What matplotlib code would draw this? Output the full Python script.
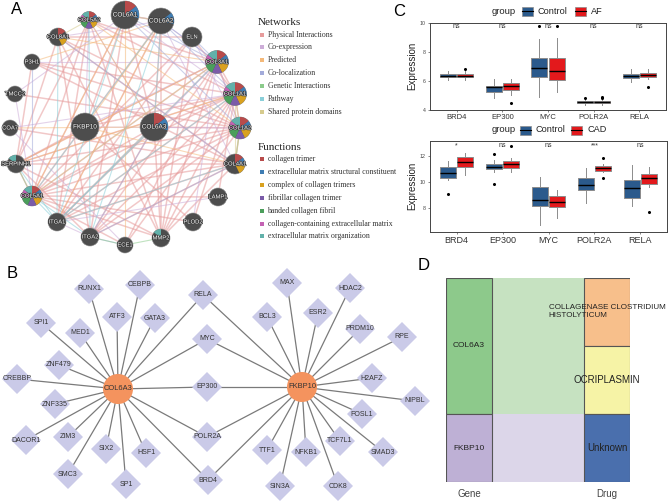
import matplotlib
matplotlib.use("Agg")
import matplotlib.pyplot as plt
import matplotlib.patheffects as pe
from matplotlib.patches import Circle, Wedge, Polygon, Rectangle

plt.rcParams["font.family"] = ["Liberation Sans", "DejaVu Sans"]
SERIF = ["Liberation Serif", "DejaVu Serif"]

# ---------------- data: panel A (GeneMANIA network) ----------------
a_nodes = ["COL6A1", "COL6A2", "ELN", "COL3A1", "COL1A1", "COL1A2", "COL4A1",
           "LAMP1", "PLOD2", "MMP2", "ECE1", "ITGA2", "ITGA1", "COL5A1",
           "SERPINH1", "COA7", "TMCC2", "P3H1", "COL8A1", "COL5A2",
           "FKBP10", "COL6A3"]
a_size = [14, 13, 10, 11.5, 11.5, 11, 10, 9, 9, 9, 8, 9, 9, 10,
          9, 8, 8, 8, 9, 8.5, 14, 14]
# function index per node (0 collagen trimer ... 6 ECM organization)
a_funcs = {"COL6A1": [0, 1], "COL6A2": [1], "COL6A3": [0, 1],
           "COL5A2": [0, 1, 2, 3, 4, 5, 6], "COL8A1": [0, 2],
           "COL3A1": [0, 1, 2, 3, 4, 5, 6], "COL1A1": [0, 1, 2, 3, 4, 5, 6],
           "COL1A2": [0, 1, 2, 3, 4, 5, 6], "COL4A1": [0, 1, 2],
           "COL5A1": [0, 1, 2, 3, 4, 5, 6], "MMP2": [6], "SERPINH1": [6]}

net_types = ["Physical Interactions", "Co-expression", "Predicted",
             "Co-localization", "Genetic Interactions", "Pathway",
             "Shared protein domains"]
net_colors = ["#E79C9C", "#CDADD8", "#F4B97A", "#A3ABDA", "#8CCB8C",
              "#8ACFD9", "#D6CB8E"]
func_names = ["collagen trimer", "extracellular matrix structural constituent",
              "complex of collagen trimers", "fibrillar collagen trimer",
              "banded collagen fibril", "collagen-containing extracellular matrix",
              "extracellular matrix organization"]
func_colors = ["#B84B4B", "#3F7DB3", "#D9A11F", "#7A5BA8", "#4B9E5B",
               "#C462B3", "#62B1AA"]

a_edges = {
    "Physical Interactions": """COL6A1-COL6A2 COL6A1-COL6A3 COL6A2-COL6A3 COL6A1-FKBP10
        COL1A1-COL1A2 COL1A1-COL3A1 COL1A2-COL3A1 COL1A1-COL5A1 COL1A2-COL5A1
        COL3A1-COL5A1 COL5A1-COL5A2 COL1A1-COL5A2 COL5A2-COL3A1 COL4A1-ITGA1
        COL4A1-ITGA2 COL1A1-ITGA2 COL1A1-ITGA1 COL1A2-ITGA2 COL3A1-ITGA2
        COL1A1-MMP2 COL1A2-MMP2 COL3A1-MMP2 COL4A1-MMP2 COL5A1-MMP2 COL6A3-MMP2
        COL1A1-SERPINH1 COL1A2-SERPINH1 COL3A1-SERPINH1 COL4A1-SERPINH1
        COL5A1-SERPINH1 COL5A2-SERPINH1 COL8A1-SERPINH1 P3H1-COL1A1 P3H1-COL1A2
        P3H1-SERPINH1 FKBP10-COL1A1 FKBP10-SERPINH1 FKBP10-PLOD2 PLOD2-COL1A1
        PLOD2-COL5A1 COL6A3-COL1A1 COL6A3-COL1A2 COL6A3-COL5A1 COL6A3-ITGA1
        COL6A3-ITGA2 COL6A1-ITGA2 COL6A2-ITGA1 COL6A1-COL5A1 COL6A2-COL5A1
        COL8A1-COL1A2 COL8A1-ITGA2 ELN-COL1A1 ELN-MMP2 ELN-COL5A1 ELN-COL8A1
        LAMP1-COL5A1 LAMP1-COL1A1 ECE1-COL1A1 ECE1-COL5A1 COL4A1-COL5A1
        COL4A1-COL1A2 COL4A1-COL8A1 COL3A1-ITGA1 COL1A2-ITGA1 TMCC2-COL1A2
        COA7-COL4A1 SERPINH1-MMP2 SERPINH1-ITGA2 COL5A2-MMP2 COL8A1-MMP2
        P3H1-COL4A1 COL5A2-ITGA1 ELN-ITGA1 COL6A2-MMP2 COL3A1-ECE1""",
    "Co-expression": """COL6A1-COL6A2 COL6A2-COL3A1 COL6A1-COL1A1 COL3A1-COL1A2
        ELN-COL1A2 COL5A2-COL6A3 FKBP10-COL5A2 FKBP10-COL3A1 FKBP10-COL1A2
        COL8A1-COL6A2 TMCC2-COL5A1 COA7-ECE1 P3H1-COL3A1 LAMP1-ITGA1
        PLOD2-COL3A1 ITGA1-ITGA2 COL6A2-COL4A1 COL6A3-COL3A1 TMCC2-COL6A1
        COA7-COL1A1""",
    "Predicted": """COL5A2-COL1A2 COL8A1-COL3A1 FKBP10-COL6A2 COL6A3-COL5A2
        SERPINH1-COL3A1 COL5A1-COL6A1 ITGA1-COL6A2 COA7-COL6A3 P3H1-COL6A2
        COL4A1-FKBP10 ECE1-COL6A1 SERPINH1-COL1A1""",
    "Co-localization": """COL6A2-COL3A1 COL6A1-COL3A1 COL6A2-COL1A1 ITGA2-COL4A1
        ECE1-ITGA2 COL6A3-ITGA2 ELN-COL3A1 P3H1-COL5A1 COL8A1-COL4A1
        COL6A1-COL1A2""",
    "Genetic Interactions": """ECE1-ITGA2 ECE1-MMP2 COL4A1-COL1A2 SERPINH1-COL5A1""",
    "Pathway": """COL6A2-COL6A3 COL5A1-ITGA1 COL5A1-ITGA2 COL6A3-ITGA1 COL6A2-ITGA2
        COL8A1-ITGA1 SERPINH1-ITGA1 COL1A1-ITGA1 COL4A1-ITGA1 COL6A1-ITGA1
        COL5A2-ITGA2 COL6A2-COL5A1 COL3A1-ITGA1""",
    "Shared protein domains": """COL1A1-COL1A2 COL1A2-COL4A1 COL3A1-COL5A1
        COL6A1-COL6A2 COL8A1-COL5A2 COL4A1-COL1A1""",
}

# ---------------- data: panel B (TF network) ----------------
b_hubs = ["COL6A3", "FKBP10"]
b_targets = {
    "COL6A3": ["RUNX1", "CEBPB", "RELA", "SPI1", "ATF3", "GATA3", "MED1", "MYC",
               "ZNF479", "CREBBP", "EP300", "ZNF335", "DACOR1", "ZIM3", "SIX2",
               "HSF1", "POLR2A", "SMC3", "SP1", "BRD4"],
    "FKBP10": ["MAX", "HDAC2", "RELA", "MYC", "BCL3", "ESR2", "PRDM10", "RPE",
               "EP300", "H2AFZ", "NIPBL", "FOSL1", "TTF1", "NFKB1", "TCF7L1",
               "SMAD3", "SIN3A", "CDK8", "POLR2A", "BRD4"],
}

# ---------------- data: panel C (expression boxplots) ----------------
genes = ["BRD4", "EP300", "MYC", "POLR2A", "RELA"]
af_groups = ["Control", "AF"]
af_q1 = {"Control": [6.25, 5.26, 6.25, 4.47, 6.18], "AF": [6.26, 5.37, 6.04, 4.47, 6.25]}
af_med = {"Control": [6.37, 5.56, 6.87, 4.53, 6.34], "AF": [6.37, 5.62, 6.68, 4.53, 6.40]}
af_q3 = {"Control": [6.47, 5.65, 7.57, 4.60, 6.45], "AF": [6.47, 5.83, 7.55, 4.60, 6.52]}
af_lo = {"Control": [6.06, 4.80, 4.91, 4.35, 5.95], "AF": [6.08, 5.05, 5.25, 4.35, 6.13]}
af_hi = {"Control": [6.70, 6.13, 8.86, 4.75, 6.82], "AF": [6.70, 6.10, 8.93, 4.75, 6.82]}
af_out = {"Control": [[], [], [9.77], [4.85], []],
          "AF": [[6.82], [4.46], [9.77], [4.85, 4.92], [5.55]]}
af_sig = ["ns", "ns", "ns", "ns", "ns"]

cad_groups = ["Control", "CAD"]
cad_q1 = {"Control": [10.31, 10.95, 8.15, 9.36, 8.77], "CAD": [11.15, 11.03, 8.08, 10.85, 9.82]}
cad_med = {"Control": [10.64, 11.10, 8.57, 9.72, 9.49], "CAD": [11.49, 11.33, 8.46, 11.03, 10.26]}
cad_q3 = {"Control": [11.10, 11.33, 9.57, 10.26, 10.13], "CAD": [11.93, 11.59, 8.92, 11.20, 10.59]}
cad_lo = {"Control": [10.15, 10.72, 6.67, 8.34, 8.13], "CAD": [10.52, 10.77, 7.18, 10.72, 9.57]}
cad_hi = {"Control": [11.59, 11.67, 10.34, 11.03, 11.28], "CAD": [12.18, 11.85, 9.36, 11.36, 11.10]}
cad_out = {"Control": [[9.05], [12.13, 9.82], [], [], []],
           "CAD": [[], [12.77], [], [11.80, 10.26], [7.69]]}
cad_sig = ["*", "ns", "ns", "***", "ns"]

# ---------------- data: panel D (gene-drug alluvial) ----------------
d_links = [("COL6A3", "COLLAGENASE CLOSTRIDIUM\nHISTOLYTICUM"),
           ("COL6A3", "OCRIPLASMIN"),
           ("FKBP10", "Unknown")]
d_genes = ["COL6A3", "FKBP10"]
d_drugs = ["COLLAGENASE CLOSTRIDIUM\nHISTOLYTICUM", "OCRIPLASMIN", "Unknown"]

# ---------------- layout (pixel positions in the figure) ----------------
a_pos = {"COL6A1": (125, 15), "COL6A2": (161, 21), "ELN": (192, 37),
         "COL3A1": (217, 62), "COL1A1": (235, 94), "COL1A2": (240, 128),
         "COL4A1": (235, 164), "LAMP1": (218, 197), "PLOD2": (193, 222),
         "MMP2": (161, 238), "ECE1": (125, 245), "ITGA2": (90, 237),
         "ITGA1": (57, 222), "COL5A1": (32, 196), "SERPINH1": (16, 164),
         "COA7": (10, 128), "TMCC2": (15, 94), "P3H1": (32, 62),
         "COL8A1": (58, 37), "COL5A2": (89, 20), "FKBP10": (85, 127),
         "COL6A3": (154, 127)}
b_pos = {"COL6A3": (118, 389), "FKBP10": (302, 387),
         "RUNX1": (89, 289), "CEBPB": (140, 285), "RELA": (203, 295),
         "MAX": (287, 283), "HDAC2": (350, 288), "SPI1": (41, 323),
         "ATF3": (117, 317), "GATA3": (155, 318), "MED1": (80, 333),
         "MYC": (207, 339), "BCL3": (267, 317), "ESR2": (318, 313),
         "PRDM10": (360, 329), "RPE": (402, 337), "ZNF479": (59, 365),
         "CREBBP": (17, 379), "EP300": (207, 387), "H2AFZ": (372, 378),
         "NIPBL": (415, 401), "ZNF335": (55, 404), "FOSL1": (362, 414),
         "DACOR1": (26, 440), "ZIM3": (68, 437), "SIX2": (106, 449),
         "HSF1": (146, 453), "POLR2A": (207, 437), "TTF1": (267, 450),
         "NFKB1": (306, 452), "TCF7L1": (340, 441), "SMAD3": (383, 452),
         "SMC3": (68, 474), "SP1": (126, 484), "BRD4": (208, 480),
         "SIN3A": (280, 486), "CDK8": (338, 486)}

W, H = 669, 503
fig = plt.figure(figsize=(W / 100, H / 100), dpi=100)
bg = fig.add_axes([0, 0, 1, 1])
bg.set_xlim(0, W)
bg.set_ylim(H, 0)
bg.axis("off")

# panel letters
for lab, x, y in [("A", 17, 9), ("B", 12, 273), ("C", 399, 11), ("D", 424, 266)]:
    bg.text(x, y, lab, fontsize=12, ha="center", va="center")

# ---- panel A ----
for t, col in zip(net_types, net_colors):
    if t not in a_edges:
        continue
    lw = 1.1 if t == "Physical Interactions" else 0.8
    for pair in a_edges[t].split():
        u, v = pair.split("-")
        (x1, y1), (x2, y2) = a_pos[u], a_pos[v]
        bg.plot([x1, x2], [y1, y2], color=col, lw=lw, alpha=0.55, zorder=1,
                solid_capstyle="butt")

for name, r in zip(a_nodes, a_size):
    x, y = a_pos[name]
    bg.add_patch(Circle((x, y), r, fc="#4D4D4D", ec="#8A8A8A", lw=0.4, zorder=3))
    for k in a_funcs.get(name, []):
        bg.add_patch(Wedge((x, y), r, -90 + k * 360 / 7, -90 + (k + 1) * 360 / 7,
                           fc=func_colors[k], ec="none", zorder=4))
    bg.text(x, y, name, fontsize=4.2 if r < 13 else 4.6, color="white",
            ha="center", va="center", zorder=5,
            path_effects=[pe.withStroke(linewidth=1.0, foreground="#3A3A3A")])

bg.text(258, 22, "Networks", family=SERIF, fontsize=8, va="center", color="#222")
for i, (t, col) in enumerate(zip(net_types, net_colors)):
    y = 34.5 + i * 12.9
    bg.add_patch(Rectangle((260, y - 2), 4, 4, fc=col, ec="none"))
    bg.text(267.5, y, t, family=SERIF, fontsize=5.6, va="center", color="#333")
bg.text(258, 147, "Functions", family=SERIF, fontsize=8, va="center", color="#222")
for i, (t, col) in enumerate(zip(func_names, func_colors)):
    y = 159 + i * 12.9
    bg.add_patch(Rectangle((260, y - 2), 4, 4, fc=col, ec="none"))
    bg.text(267.5, y, t, family=SERIF, fontsize=5.6, va="center", color="#333")

# ---- panel B ----
for hub in b_hubs:
    hx, hy = b_pos[hub]
    for tgt in b_targets[hub]:
        tx, ty = b_pos[tgt]
        bg.plot([hx, tx], [hy, ty], color="#7A7A7A", lw=0.9, zorder=1)
targets = []
for hub in b_hubs:
    for tgt in b_targets[hub]:
        if tgt not in targets:
            targets.append(tgt)
for tgt in targets:
    x, y = b_pos[tgt]
    d = 15
    bg.add_patch(Polygon([(x - d, y), (x, y - d), (x + d, y), (x, y + d)],
                         closed=True, fc="#CACAE8", ec="none", zorder=3))
    bg.text(x, y, tgt, fontsize=5, color="#333", ha="center", va="center", zorder=4)
for hub in b_hubs:
    x, y = b_pos[hub]
    bg.add_patch(Circle((x, y), 15, fc="#F4935E", ec="none", zorder=3))
    bg.text(x, y, hub, fontsize=5.4, color="#333", ha="center", va="center", zorder=4)

# ---- panel C ----
ctrl_col, case_cols = "#2B5A8C", {"AF": "#E3191C", "CAD": "#E3191C"}


def box_panel(rect, groups, q1, med, q3, lo, hi, out, sig, ylim, yticks, sig_y, xfs):
    ax = fig.add_axes(rect)
    cols = [ctrl_col, case_cols[groups[1]]]
    for gi, g in enumerate(groups):
        stats = []
        for j in range(len(genes)):
            stats.append(dict(med=med[g][j], q1=q1[g][j], q3=q3[g][j],
                              whislo=lo[g][j], whishi=hi[g][j], fliers=out[g][j]))
        pos = [j + 1 + (gi - 0.5) * 0.38 for j in range(len(genes))]
        ax.bxp(stats, positions=pos, widths=0.35, patch_artist=True,
               showcaps=False,
               boxprops=dict(facecolor=cols[gi], edgecolor="#8C8C8C", lw=0.7),
               medianprops=dict(color="black", lw=1.0),
               whiskerprops=dict(color="#8C8C8C", lw=0.7),
               flierprops=dict(marker="o", markersize=1.2, markerfacecolor="black",
                               markeredgecolor="black"))
    for j, s in enumerate(sig):
        ax.text(j + 1, sig_y, s, ha="center", va="center", fontsize=5, color="#333")
    ax.set_xlim(0.42, 5.58)
    ax.set_ylim(*ylim)
    ax.set_xticks(range(1, len(genes) + 1))
    ax.set_xticklabels(genes, fontsize=xfs, color="#333")
    ax.set_yticks(yticks)
    ax.set_yticklabels([str(t) for t in yticks], fontsize=3.8, color="#444")
    ax.tick_params(axis="both", length=1.5, width=0.5, color="#555", pad=1.5)
    ax.set_ylabel("Expression", fontsize=7, labelpad=2, color="#222")
    for s in ax.spines.values():
        s.set_color("#444")
        s.set_linewidth(0.7)
    return ax


box_panel([430 / W, 1 - 110 / H, 236 / W, 87.3 / H], af_groups, af_q1, af_med,
          af_q3, af_lo, af_hi, af_out, af_sig, (4, 10), [4, 6, 8, 10], 9.72, 5.5)
box_panel([430 / W, 1 - 231.7 / H, 237 / W, 90.7 / H], cad_groups, cad_q1, cad_med,
          cad_q3, cad_lo, cad_hi, cad_out, cad_sig, (6.15, 13.13), [8, 10, 12],
          12.77, 6.5)


def legend(y, groups, xs):
    bg.text(504, y, "group", fontsize=6.8, ha="center", va="center", color="#222")
    for g, (sx, tx) in zip(groups, xs):
        col = ctrl_col if g == "Control" else case_cols[g]
        bg.add_patch(Rectangle((sx, y - 4.5), 11, 9, fc=col, ec="#8C8C8C", lw=0.5))
        bg.plot([sx, sx + 11], [y, y], color="black", lw=0.8)
        bg.text(tx, y, g, fontsize=6.6, ha="left", va="center", color="#222")


legend(11, af_groups, [(522, 538), (575, 591)])
legend(130, cad_groups, [(520, 536), (571, 587)])

# ---- panel D ----
axd = fig.add_axes([445.7 / W, 1 - 482.3 / H, (630 - 445.7) / W, (482.3 - 277.7) / H])
axd.set_xlim(0, 1)
axd.set_ylim(len(d_links), 0)
axd.axis("off")
gene_cols = {"COL6A3": "#8DC98B", "FKBP10": "#BEB0D5"}
flow_cols = {"COL6A3": "#C6E2C1", "FKBP10": "#DCD6E9"}
drug_cols = ["#F7BF8B", "#F6F3A6", "#4A6FAD"]
cw = 0.25
gene_cnt = [sum(1 for g, _ in d_links if g == gn) for gn in d_genes]
drug_cnt = [sum(1 for _, d in d_links if d == dn) for dn in d_drugs]
gstart = {}
acc = 0
for gn, c in zip(d_genes, gene_cnt):
    gstart[gn] = acc
    axd.bar(cw / 2, c, bottom=acc, width=cw, color=gene_cols[gn], ec="#555", lw=0.8)
    axd.text(cw / 2, acc + c / 2, gn, fontsize=6, ha="center", va="center", color="#222")
    acc += c
dstart = {}
acc = 0
for dn, c, col in zip(d_drugs, drug_cnt, drug_cols):
    dstart[dn] = acc
    axd.bar(1 - cw / 2, c, bottom=acc, width=cw, color=col, ec="#555", lw=0.8)
    fs = 5.8 if "\n" in dn else 7
    axd.text(1 - cw / 2, acc + c / 2, dn, fontsize=fs, ha="center", va="center",
             multialignment="left", color="#222", zorder=5)
    acc += c
goff = dict(gstart)
for g, d in d_links:
    y0, y1 = goff[g], dstart[d]
    axd.fill_between([cw, 1 - cw], [y0, y1], [y0 + 1, y1 + 1], color=flow_cols[g],
                     lw=0, zorder=0)
    goff[g] += 1
bg.text(469, 494, "Gene", fontsize=7, ha="center", va="center", color="#444")
bg.text(607, 494, "Drug", fontsize=7, ha="center", va="center", color="#444")

fig.savefig("out.png", dpi=100)
